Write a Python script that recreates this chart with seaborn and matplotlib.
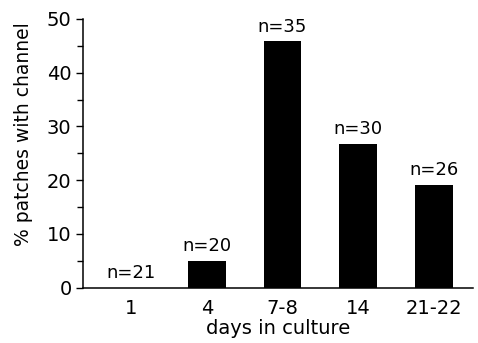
import numpy as np
import pandas as pd
import seaborn as sns
import matplotlib.pyplot as plt
from matplotlib.ticker import MultipleLocator

days = ["1", "4", "7-8", "14", "21-22"]
pct_channel = [0, 5.0, 45.8, 26.8, 19.2]
n_labels = ["n=21", "n=20", "n=35", "n=30", "n=26"]

df = pd.DataFrame({"days": days, "pct": pct_channel})

sns.set_theme(style="ticks")
plt.rcParams['font.family'] = ['DejaVu Sans']
plt.rcParams['text.color'] = 'black'
plt.rcParams['axes.labelcolor'] = 'black'

fig = plt.figure(figsize=(4.78, 3.43), dpi=100)
ax = fig.add_axes([0.173, 0.161, 0.817, 0.784])

sns.barplot(data=df, x="days", y="pct", color="black", width=0.5,
            saturation=1, edgecolor="black", linewidth=0, ax=ax)

# sample sizes above bars
for i, (v, lab) in enumerate(zip(pct_channel, n_labels)):
    ax.annotate(lab, (i, v), xytext=(0, 7), textcoords="offset points",
                ha="center", va="baseline", fontsize=13, color="black")

ax.set_ylim(0, 50)
ax.set_xlim(-0.64, 4.52)
ax.yaxis.set_major_locator(MultipleLocator(10))
ax.yaxis.set_minor_locator(MultipleLocator(5))
ax.tick_params(axis="y", which="major", length=5, width=1, pad=3, labelsize=14, colors="black")
ax.tick_params(axis="y", which="minor", length=4, width=1, colors="black")
ax.tick_params(axis="x", length=0, pad=8, labelsize=14, colors="black")

ax.set_xlabel("days in culture", fontsize=14, labelpad=1)
ax.set_ylabel("% patches with channel", fontsize=13.5)
ax.yaxis.set_label_coords(-0.128, 0.57)

sns.despine(ax=ax)
for s in ["left", "bottom"]:
    ax.spines[s].set_linewidth(1.1)
    ax.spines[s].set_color("black")

fig.savefig("out.png", dpi=100)
